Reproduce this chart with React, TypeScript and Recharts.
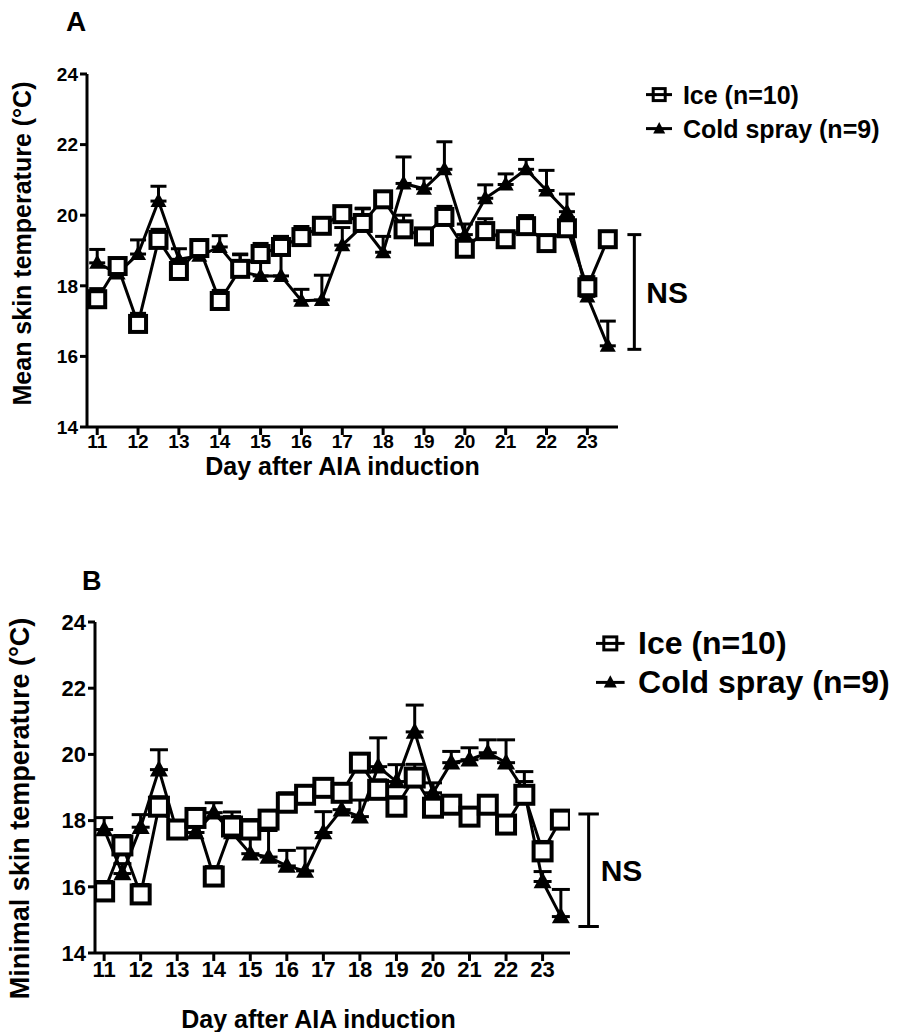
import React from "react";
import {
  LineChart,
  Line,
  XAxis,
  YAxis,
  ErrorBar,
  ReferenceLine,
  Label,
} from "recharts";

// sampling days (twice a day)
const days = [
  11, 11.5, 12, 12.5, 13, 13.5, 14, 14.5, 15, 15.5, 16, 16.5, 17, 17.5, 18,
  18.5, 19, 19.5, 20, 20.5, 21, 21.5, 22, 22.5, 23, 23.5,
];
const dayTicks = [11, 12, 13, 14, 15, 16, 17, 18, 19, 20, 21, 22, 23];
const tempTicks = [14, 16, 18, 20, 22, 24];

// panel A: mean skin temperature
const iceMean = [
  17.62, 18.56, 16.92, 19.3, 18.42, 19.07, 17.57, 18.48, 18.9, 19.1, 19.38,
  19.7, 20.03, 19.78, 20.45, 19.6, 19.4, 19.95, 19.05, 19.55, 19.32, 19.69,
  19.21, 19.63, 17.96, 19.32,
];
const iceMeanErr = [
  0.3, 0.2, 0.3, 0.3, 0.3, 0.2, 0.3, 0.4, 0.3, 0.3, 0.3, 0.2, 0.2, 0.4, 0.2,
  0.4, 0.2, 0.3, 0.2, 0.35, 0.2, 0.3, 0.2, 0.3, 0.3, 0.2,
];
const coldMean = [
  18.65, 18.35, 18.9, 20.4, 18.75, 18.85, 19.1, 18.4, 18.28, 18.28, 17.58,
  17.6, 19.15, 19.7, 18.95, 20.9, 20.75, 21.3, 19.45, 20.48, 20.87, 21.3,
  20.7, 20.1, 17.7, 16.3,
];
const coldMeanErr = [
  0.38, 0.2, 0.4, 0.42, 0.3, 0.25, 0.32, 0.5, 0.5, 0.6, 0.32, 0.7, 0.5, 0.5,
  0.45, 0.75, 0.3, 0.78, 0.3, 0.38, 0.3, 0.28, 0.57, 0.5, 0.3, 0.7,
];

// panel B: minimal skin temperature
const iceMin = [
  15.86, 17.25, 15.77, 18.42, 17.73, 18.08, 16.31, 17.82, 17.73, 18.03, 18.54,
  18.78, 18.99, 18.84, 19.75, 18.93, 18.42, 19.3, 18.39, 18.48, 18.12, 18.48,
  17.88, 18.78, 17.07, 18.03,
];
const iceMinErr = [
  0.3, 0.3, 0.3, 0.3, 0.2, 0.2, 0.3, 0.3, 0.3, 0.2, 0.3, 0.2, 0.1, 0.2, 0.2,
  0.3, 0.3, 0.4, 0.3, 0.2, 0.2, 0.2, 0.2, 0.4, 0.3, 0.2,
];
const coldMin = [
  17.73, 16.4, 17.8, 19.54, 17.64, 17.64, 18.24, 17.64, 17.0, 16.9, 16.63,
  16.48, 17.64, 18.33, 18.12, 19.63, 19.18, 20.68, 18.84, 19.75, 19.84, 20.05,
  19.75, 18.9, 16.16, 15.1,
];
const coldMinErr = [
  0.36, 0.3, 0.38, 0.6, 0.3, 0.3, 0.3, 0.62, 0.6, 0.8, 0.47, 0.69, 0.63, 0.4,
  0.5, 0.87, 0.51, 0.81, 0.3, 0.34, 0.36, 0.39, 0.69, 0.58, 0.3, 0.82,
];

// NS bracket ranges (top, bottom)
const nsRangeA = [19.45, 16.2];
const nsRangeB = [18.2, 14.8];

const FONT = "'Liberation Sans', Arial, Helvetica, sans-serif";

const buildRows = (ice: number[], iceErr: number[], cold: number[], coldErr: number[]) =>
  days.map((day, i) => ({
    day,
    ice: ice[i],
    iceErr: [0, iceErr[i]],
    cold: cold[i],
    coldErr: [0, coldErr[i]],
  }));

const rowsA = buildRows(iceMean, iceMeanErr, coldMean, coldMeanErr);
const rowsB = buildRows(iceMin, iceMinErr, coldMin, coldMinErr);

const squareDot = (size: number) => (props: any) => {
  const { cx, cy, index } = props;
  if (cx == null || cy == null) return <g key={`sq-${index}`} />;
  const h = size / 2;
  return (
    <rect
      key={`sq-${index}`}
      x={cx - h}
      y={cy - h}
      width={size}
      height={size}
      fill="#fff"
      stroke="#000"
      strokeWidth={4}
    />
  );
};

const triangleDot = (size: number) => (props: any) => {
  const { cx, cy, index } = props;
  if (cx == null || cy == null) return <g key={`tr-${index}`} />;
  const h = size / 2;
  return (
    <polygon
      key={`tr-${index}`}
      points={`${cx},${cy - h * 1.05} ${cx + h},${cy + h * 0.75} ${cx - h},${cy + h * 0.75}`}
      fill="#000"
    />
  );
};

interface PanelProps {
  rows: any[];
  top: number;
  height: number;
  margin: { top: number; right: number; bottom: number; left: number };
  yAxisWidth: number;
  yTitle: string;
  yTitleSize: number;
  yTitleX: number;
  yTitleDy: number;
  xTitleSize: number;
  xTitleDx: number;
  xTitleDy: number;
  tickSize: number;
  markSize: number;
  ns: number[];
  nsX: number;
  nsCap: number;
  nsSize: number;
}

const Panel = (p: PanelProps) => {
  const tickStyle = { fontSize: p.tickSize, fontWeight: "bold", fill: "#000", fontFamily: FONT };
  const yTitle = (lp: any) => {
    const vb = lp.viewBox || { x: 0, y: 0, width: 0, height: 0 };
    const x = vb.x + p.yTitleX;
    const y = vb.y + vb.height / 2 + p.yTitleDy;
    return (
      <text
        transform={`translate(${x},${y}) rotate(-90)`}
        textAnchor="middle"
        dominantBaseline="central"
        fontSize={p.yTitleSize}
        fontWeight="bold"
        fontFamily={FONT}
        fill="#000"
      >
        {p.yTitle}
      </text>
    );
  };
  const xTitle = (lp: any) => {
    const vb = lp.viewBox || { x: 0, y: 0, width: 0, height: 0 };
    return (
      <text
        x={vb.x + vb.width / 2 + p.xTitleDx}
        y={vb.y + p.xTitleDy}
        textAnchor="middle"
        fontSize={p.xTitleSize}
        fontWeight="bold"
        fontFamily={FONT}
        fill="#000"
      >
        Day after AIA induction
      </text>
    );
  };
  return (
    <div style={{ position: "absolute", left: 0, top: p.top }}>
      <LineChart width={907} height={p.height} data={p.rows} margin={p.margin}>
        <XAxis
          type="number"
          dataKey="day"
          domain={[10.75, 23.75]}
          ticks={dayTicks}
          allowDataOverflow
          height={33}
          axisLine={{ stroke: "#000", strokeWidth: 3 }}
          tickLine={{ stroke: "#000", strokeWidth: 3 }}
          tickSize={8}
          tickMargin={0}
          tick={tickStyle}
          interval={0}
        >
          <Label content={xTitle} />
        </XAxis>
        <YAxis
          type="number"
          domain={[14, 24]}
          ticks={tempTicks}
          allowDataOverflow
          width={p.yAxisWidth}
          axisLine={{ stroke: "#000", strokeWidth: 3 }}
          tickLine={{ stroke: "#000", strokeWidth: 3 }}
          tickSize={7}
          tickMargin={2}
          tick={tickStyle}
          interval={0}
        >
          <Label content={yTitle} />
        </YAxis>
        <Line
          dataKey="cold"
          stroke="#000"
          strokeWidth={3}
          dot={triangleDot(p.markSize)}
          activeDot={false}
          isAnimationActive={false}
        >
          <ErrorBar dataKey="coldErr" direction="y" width={p.markSize / 2} stroke="#000" strokeWidth={3} />
        </Line>
        <Line
          dataKey="ice"
          stroke="#000"
          strokeWidth={3}
          dot={squareDot(p.markSize)}
          activeDot={false}
          isAnimationActive={false}
        >
          <ErrorBar dataKey="iceErr" direction="y" width={p.markSize / 2} stroke="#000" strokeWidth={3} />
        </Line>
        <ReferenceLine
          segment={[{ x: p.nsX, y: p.ns[0] }, { x: p.nsX, y: p.ns[1] }]}
          stroke="#000"
          strokeWidth={3}
          ifOverflow="visible"
          label={{
            value: "NS",
            position: "right",
            offset: 12,
            fontSize: p.nsSize,
            fontWeight: "bold",
            fill: "#000",
            fontFamily: FONT,
          }}
        />
        <ReferenceLine
          segment={[{ x: p.nsX - p.nsCap, y: p.ns[0] }, { x: p.nsX + p.nsCap, y: p.ns[0] }]}
          stroke="#000"
          strokeWidth={3}
          ifOverflow="visible"
        />
        <ReferenceLine
          segment={[{ x: p.nsX - p.nsCap, y: p.ns[1] }, { x: p.nsX + p.nsCap, y: p.ns[1] }]}
          stroke="#000"
          strokeWidth={3}
          ifOverflow="visible"
        />
      </LineChart>
    </div>
  );
};

const LegendBox = ({ left, top, gap, size, mark }: { left: number; top: number; gap: number; size: number; mark: number }) => {
  const icon = (kind: "sq" | "tr") => (
    <svg width={mark * 2.2} height={mark * 1.6} style={{ marginRight: size * 0.42, flex: "none" }}>
      <line x1={0} x2={mark * 2.2} y1={mark * 0.8} y2={mark * 0.8} stroke="#000" strokeWidth={3} />
      {kind === "sq" ? (
        <rect x={mark * 1.1 - mark / 2} y={mark * 0.8 - mark / 2} width={mark} height={mark} fill="none" stroke="#000" strokeWidth={3} />
      ) : (
        <polygon
          points={`${mark * 1.1},${mark * 0.8 - mark * 0.55} ${mark * 1.1 + mark / 2},${mark * 0.8 + mark * 0.4} ${mark * 1.1 - mark / 2},${mark * 0.8 + mark * 0.4}`}
          fill="#000"
        />
      )}
    </svg>
  );
  const row = { display: "flex", alignItems: "center", height: gap, whiteSpace: "nowrap" as const };
  return (
    <div style={{ position: "absolute", left, top, fontFamily: FONT, fontWeight: "bold", fontSize: size, color: "#000" }}>
      <div style={row}>
        {icon("sq")}
        <span>Ice (n=10)</span>
      </div>
      <div style={row}>
        {icon("tr")}
        <span>Cold spray (n=9)</span>
      </div>
    </div>
  );
};

export default function App() {
  return (
    <div style={{ position: "absolute", left: 0, top: 0, width: 907, height: 1032, background: "#fff", overflow: "hidden" }}>
      <div style={{ position: "absolute", left: 66, top: 6, fontFamily: FONT, fontWeight: "bold", fontSize: 28 }}>A</div>
      <div style={{ position: "absolute", left: 82, top: 566, fontFamily: FONT, fontWeight: "bold", fontSize: 27 }}>B</div>
      <Panel
        rows={rowsA}
        top={0}
        height={490}
        margin={{ top: 74, right: 289, bottom: 30, left: 0 }}
        yAxisWidth={87}
        yTitle="Mean skin temperature (°C)"
        yTitleSize={25}
        yTitleX={22}
        yTitleDy={-7}
        xTitleSize={25}
        xTitleDx={-10}
        xTitleDy={48}
        tickSize={19}
        markSize={16}
        ns={nsRangeA}
        nsX={24.15}
        nsCap={0.17}
        nsSize={30}
      />
      <Panel
        rows={rowsB}
        top={540}
        height={492}
        margin={{ top: 82, right: 337, bottom: 46, left: 0 }}
        yAxisWidth={95}
        yTitle="Minimal skin temperature (°C)"
        yTitleSize={27}
        yTitleX={20}
        yTitleDy={21}
        xTitleSize={25}
        xTitleDx={-14}
        xTitleDy={75}
        tickSize={22}
        markSize={18}
        ns={nsRangeB}
        nsX={24.26}
        nsCap={0.28}
        nsSize={30}
      />
      <LegendBox left={646} top={78} gap={34} size={25} mark={12} />
      <LegendBox left={596} top={624} gap={39} size={32} mark={13} />
    </div>
  );
}
